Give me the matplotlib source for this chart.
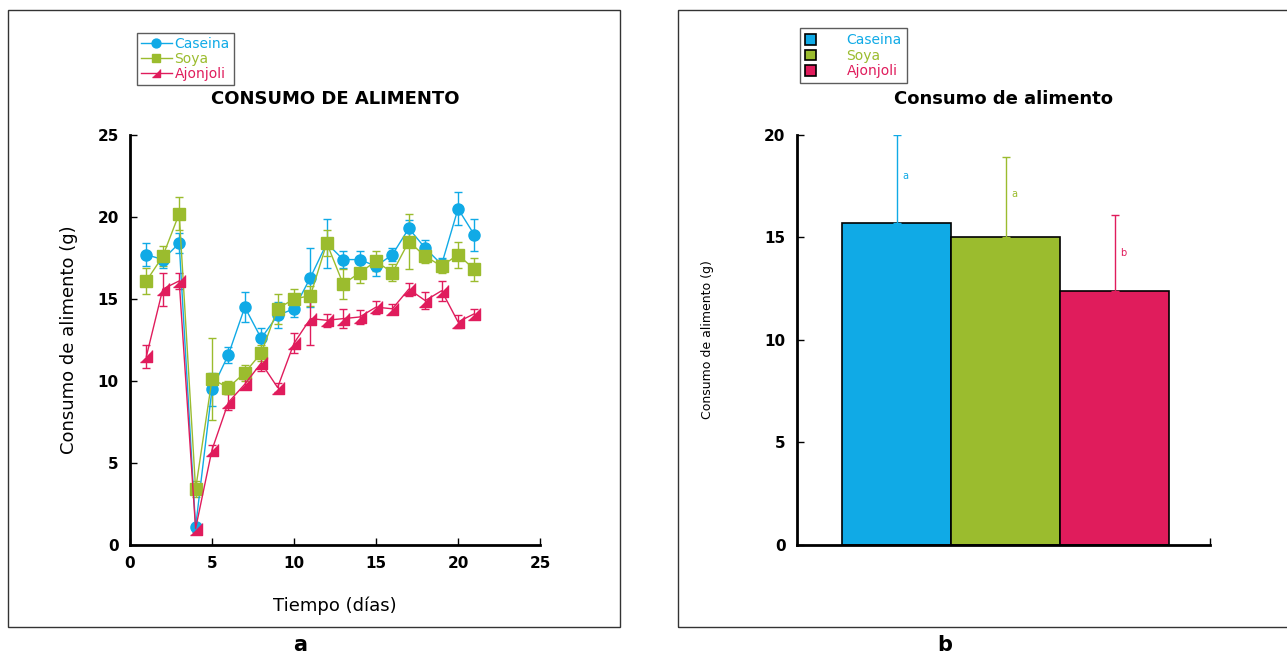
import numpy as np
import matplotlib.pyplot as plt
from matplotlib.patches import Rectangle

# --- data ---
dias = np.arange(1, 22)
caseina = [17.7, 17.4, 18.4, 1.1, 9.5, 11.6, 14.5, 12.6, 14.0, 14.4, 16.3,
           18.4, 17.4, 17.4, 17.0, 17.7, 19.3, 18.1, 17.1, 20.5, 18.9]
caseina_err = [0.7, 0.5, 0.6, 0.2, 1.0, 0.5, 0.9, 0.6, 0.8, 0.5, 1.8,
               1.5, 0.5, 0.5, 0.6, 0.4, 0.5, 0.5, 0.4, 1.0, 1.0]
soya = [16.1, 17.6, 20.2, 3.4, 10.1, 9.6, 10.5, 11.7, 14.4, 15.0, 15.2,
        18.4, 15.9, 16.6, 17.3, 16.6, 18.5, 17.6, 17.0, 17.7, 16.8]
soya_err = [0.8, 0.6, 1.0, 0.5, 2.5, 0.4, 0.5, 0.5, 0.9, 0.6, 0.6,
            0.8, 0.9, 0.6, 0.6, 0.5, 1.7, 0.4, 0.4, 0.8, 0.7]
ajonjoli = [11.5, 15.6, 16.1, 1.0, 5.8, 8.7, 9.8, 11.1, 9.6, 12.3, 13.8,
            13.7, 13.8, 13.9, 14.5, 14.4, 15.6, 14.9, 15.5, 13.6, 14.1]
ajonjoli_err = [0.7, 1.0, 0.5, 0.2, 0.3, 0.5, 0.3, 0.5, 0.3, 0.6, 1.6,
                0.4, 0.6, 0.4, 0.4, 0.3, 0.4, 0.5, 0.6, 0.4, 0.3]

grupos = ['Caseina', 'Soya', 'Ajonjoli']
medias = [15.7, 15.0, 12.4]
medias_err = [4.3, 3.9, 3.7]
letras = ['a', 'a', 'b']
letras_y = [18.0, 17.1, 14.25]

c_blue = '#10aae6'
c_green = '#9bbc2e'
c_pink = '#e01c5c'
colores = [c_blue, c_green, c_pink]

fig = plt.figure(figsize=(12.87, 6.53), dpi=100)

# panel frames
fig.patches.append(Rectangle((0.0062, 0.0398), 0.4755, 0.945, transform=fig.transFigure,
                             fill=False, edgecolor='#333333', linewidth=1.0))
fig.patches.append(Rectangle((0.5268, 0.0398), 0.48, 0.945, transform=fig.transFigure,
                             fill=False, edgecolor='#333333', linewidth=1.0))
fig.text(0.233, 0.003, 'a', fontsize=15, fontweight='bold', ha='center')
fig.text(0.734, 0.003, 'b', fontsize=15, fontweight='bold', ha='center')

# ---------- panel a ----------
ax1 = fig.add_axes([0.101, 0.1654, 0.3186, 0.628])
tri = [(-1, -1), (1, -1), (1, 1)]
series = [(caseina, caseina_err, c_blue, 'o', 'Caseina'),
          (soya, soya_err, c_green, 's', 'Soya'),
          (ajonjoli, ajonjoli_err, c_pink, tri, 'Ajonjoli')]
handles = []
for vals, err, col, mk, lab in series:
    h = ax1.errorbar(dias, vals, yerr=err, color=col, marker=mk, markersize=8,
                     linewidth=1.0, elinewidth=1.0, capsize=3, capthick=1.0,
                     label=lab)
    handles.append(h.lines[0])

ax1.set_xlim(0, 25)
ax1.set_ylim(0, 25)
ax1.set_xticks(np.arange(0, 26, 5))
ax1.set_yticks(np.arange(0, 26, 5))
ax1.spines['top'].set_visible(False)
ax1.spines['right'].set_visible(False)
ax1.spines['left'].set_linewidth(2)
ax1.spines['bottom'].set_linewidth(2)
ax1.tick_params(direction='in', length=5, width=1, labelsize=11, pad=8)
for t in ax1.get_xticklabels() + ax1.get_yticklabels():
    t.set_fontweight('bold')
ax1.set_title('CONSUMO DE ALIMENTO', fontsize=13, fontweight='bold', pad=22)
ax1.set_ylabel('Consumo de alimento (g)', fontsize=13, labelpad=14)
ax1.set_xlabel('Tiempo (días)', fontsize=13, labelpad=18)
leg1 = ax1.legend(handles=handles, labels=grupos, loc='upper left',
                  bbox_to_anchor=(0.0, 1.265),
                  fontsize=10, handlelength=2.2, handletextpad=0.2, borderpad=0.3,
                  labelspacing=0.05, fancybox=False, edgecolor='#333333',
                  markerscale=0.8)
for txt, col in zip(leg1.get_texts(), colores):
    txt.set_color(col)

# ---------- panel b ----------
ax2 = fig.add_axes([0.619, 0.1654, 0.321, 0.628])
xpos = np.arange(len(grupos))
bars = ax2.bar(xpos, medias, width=1.0, color=colores, edgecolor='black',
               linewidth=1.2, label=grupos)
for x, m, e, col in zip(xpos, medias, medias_err, colores):
    ax2.errorbar([x], [m], yerr=[[0], [e]], color=col, elinewidth=1.0,
                 capsize=3, capthick=1.0, fmt='none')
for x, l, yy, col in zip(xpos, letras, letras_y, colores):
    ax2.text(x + 0.08, yy, l, color=col, fontsize=7, ha='center', va='center')

ax2.set_xlim(-0.92, 2.87)
ax2.set_ylim(0, 20)
ax2.set_yticks(np.arange(0, 21, 5))
ax2.set_xticks([2.87])
ax2.set_xticklabels([''])
ax2.spines['top'].set_visible(False)
ax2.spines['right'].set_visible(False)
ax2.spines['left'].set_linewidth(2)
ax2.spines['bottom'].set_linewidth(2)
ax2.tick_params(direction='in', length=5, width=1, labelsize=11, pad=8)
for t in ax2.get_yticklabels():
    t.set_fontweight('bold')
ax2.set_title('Consumo de alimento', fontsize=13, fontweight='bold', pad=22)
ax2.set_ylabel('Consumo de alimento (g)', fontsize=9, labelpad=36)
leg2 = ax2.legend(bars, grupos, loc='upper left', bbox_to_anchor=(0.008, 1.26),
                  fontsize=10, handlelength=0.8, handleheight=0.8,
                  handletextpad=2.2, borderpad=0.35, labelspacing=0.12,
                  fancybox=False, edgecolor='#333333', borderaxespad=0.0)
for txt, col in zip(leg2.get_texts(), colores):
    txt.set_color(col)

fig.savefig('out.png', dpi=100)
